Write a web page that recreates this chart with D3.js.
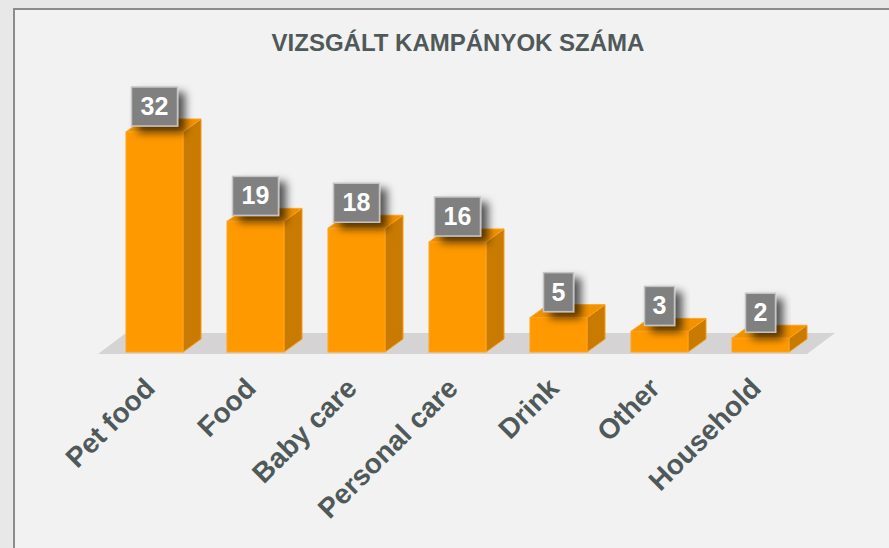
<!DOCTYPE html>
<html>
<head>
<meta charset="utf-8">
<script src="https://cdn.jsdelivr.net/npm/d3@7"></script>
<style>
  body { margin: 0; background: #e8e8e8; overflow: hidden; }
  svg { display: block; font-family: "Liberation Sans", Arial, sans-serif; }
</style>
</head>
<body>
<script>
    // chart data
    const title = "VIZSGÁLT KAMPÁNYOK SZÁMA";
    const categories = ["Pet food", "Food", "Baby care", "Personal care", "Drink", "Other", "Household"];
    const values = [32, 19, 18, 16, 5, 3, 2];

    const width = 889, height = 548;
    const depthX = 18, depthY = 13;   // 3d offset of the bars
    const baseY = 352;

    const svg = d3.select("body").append("svg")
        .attr("width", width)
        .attr("height", height);

    // shadow for the value boxes
    const defs = svg.append("defs");
    const f = defs.append("filter").attr("id", "shadow")
        .attr("x", "-50%").attr("y", "-50%").attr("width", "200%").attr("height", "200%");
    f.append("feDropShadow")
        .attr("dx", 7).attr("dy", 6).attr("stdDeviation", 4.5)
        .attr("flood-color", "#000").attr("flood-opacity", 0.65);

    // panel (border only on left and top, the rest runs off the picture)
    svg.append("rect").attr("x", 13).attr("y", 8).attr("width", width).attr("height", height)
        .attr("fill", "#f2f2f2");
    svg.append("path")
        .attr("d", `M14,${height} L14,9 L${width},9`)
        .attr("fill", "none").attr("stroke", "#8c8c8c").attr("stroke-width", 2);

    svg.append("text")
        .attr("x", 458).attr("y", 51)
        .attr("text-anchor", "middle")
        .style("font-size", "24px").style("font-weight", "bold")
        .attr("fill", "#4f5959")
        .text(title);

    const x = d3.scaleBand()
        .domain(categories)
        .range([104, 811])
        .paddingInner(0.4356)
        .paddingOuter(0.2178);

    const y = d3.scaleLinear()
        .domain([0, 32])
        .range([baseY, 132]);

    // floor
    const fx0 = x.range()[0] - 6, fx1 = x.range()[1] - 4;
    svg.append("path")
        .attr("d", `M${fx0},${baseY + 2} L${fx1},${baseY + 2} L${fx1 + 28},${baseY - 19} L${fx0 + 28},${baseY - 19} Z`)
        .attr("fill", "#d5d3d3");

    const bars = svg.selectAll(".bar")
        .data(values)
        .enter().append("g")
        .attr("class", "bar");

    // side face
    bars.append("path")
        .attr("d", (d, i) => {
            const x1 = x(categories[i]) + x.bandwidth(), t = y(d);
            return `M${x1},${t} L${x1 + depthX},${t - depthY} L${x1 + depthX},${baseY - depthY} L${x1},${baseY} Z`;
        })
        .attr("fill", "#c97a00").attr("stroke", "#f59a10").attr("stroke-width", 1);

    // top face
    bars.append("path")
        .attr("d", (d, i) => {
            const x0 = x(categories[i]), x1 = x0 + x.bandwidth(), t = y(d);
            return `M${x0},${t} L${x1},${t} L${x1 + depthX},${t - depthY} L${x0 + depthX},${t - depthY} Z`;
        })
        .attr("fill", "#f29200").attr("stroke", "#ffa31f").attr("stroke-width", 1);

    // front face
    bars.append("rect")
        .attr("x", (d, i) => x(categories[i]))
        .attr("y", d => y(d))
        .attr("width", x.bandwidth())
        .attr("height", d => baseY - y(d))
        .attr("fill", "#ff9900").attr("stroke", "#ffa31f").attr("stroke-width", 1);

    // value boxes
    const lab = svg.selectAll(".val")
        .data(values)
        .enter().append("g")
        .attr("class", "val")
        .attr("transform", (d, i) => `translate(${x(categories[i]) + x.bandwidth() / 2}, ${y(d) - 6})`);

    lab.append("rect")
        .attr("x", d => String(d).length > 1 ? -23 : -15)
        .attr("y", -39)
        .attr("width", d => String(d).length > 1 ? 46 : 30)
        .attr("height", 39)
        .attr("fill", "#808080")
        .attr("stroke", "#c4c4c4").attr("stroke-width", 1.5)
        .attr("filter", "url(#shadow)");

    lab.append("text")
        .attr("y", -11)
        .attr("text-anchor", "middle")
        .style("font-size", "25px").style("font-weight", "bold")
        .attr("fill", "#ffffff")
        .text(d => d);

    // category labels
    svg.selectAll(".cat")
        .data(categories)
        .enter().append("text")
        .attr("class", "cat")
        .attr("text-anchor", "end")
        .attr("transform", d => `translate(${x(d) + x.bandwidth() / 2 + 2}, 390) rotate(-45)`)
        .style("font-size", "28px").style("font-weight", "bold")
        .attr("fill", "#4f5959")
        .text(d => d);
</script>
</body>
</html>
